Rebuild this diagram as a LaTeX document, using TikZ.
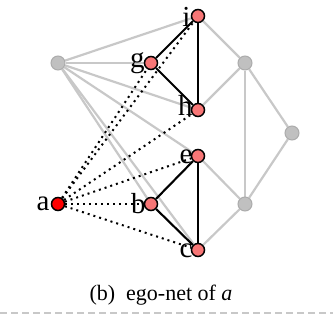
\documentclass[tikz,border=0pt]{standalone}
\usepackage{fontspec}
\setmainfont{Liberation Serif}
\usepackage{tikz}
\usetikzlibrary{backgrounds}
\definecolor{pinkn}{RGB}{247,118,118}
\definecolor{grayn}{RGB}{192,192,192}
\definecolor{grayb}{RGB}{172,172,172}
\definecolor{graye}{RGB}{200,200,200}
\begin{document}
\begin{tikzpicture}[x=1pt,y=-1pt,
  egon/.style={circle,draw=black,line width=1.5pt,fill=pinkn,minimum size=13pt,inner sep=0pt},
  egoc/.style={egon,fill=red},
  othn/.style={circle,draw=grayb,line width=1pt,fill=grayn,minimum size=14pt,inner sep=0pt},
  grayedge/.style={draw=graye,line width=2.2pt},
  blackedge/.style={draw=black,line width=2.1pt},
  dotedge/.style={draw=black,line width=2pt,dash pattern=on 2pt off 4pt},
  lab/.style={font=\fontsize{29}{31}\selectfont,inner sep=0pt},
  capt/.style={font=\fontsize{22}{24}\selectfont,inner sep=0pt},
  sepline/.style={draw=graye,line width=2.6pt,dash pattern=on 7pt off 4pt}
]
\useasboundingbox (0,0) rectangle (333,316);
\node[egon] (i) at (198,16) {};
\node[egon] (g) at (151,63) {};
\node[egon] (h) at (198,110) {};
\node[egon] (e) at (198,156) {};
\node[egon] (b) at (151,204) {};
\node[egon] (c) at (198,250) {};
\node[egoc] (a) at (58,204) {};
\node[othn] (L) at (58,63) {};
\node[othn] (R1) at (245,63) {};
\node[othn] (R2) at (292,133) {};
\node[othn] (R3) at (245,204) {};
% labels
\node[lab,anchor=east] (li) at ([xshift=0pt,yshift=-1pt]i.west) {i};
\node[lab,anchor=east] (lg) at ([xshift=1pt]g.west) {g};
\node[lab,anchor=east] (lh) at ([xshift=2pt,yshift=5pt]h.west) {h};
\node[lab,anchor=east] (le) at ([xshift=2pt,yshift=-1pt]e.west) {e};
\node[lab,anchor=east] (lb) at ([xshift=2pt]b.west) {b};
\node[lab,anchor=east] (lc) at ([xshift=2pt,yshift=-1pt]c.west) {c};
\node[lab,anchor=east] (la) at ([xshift=-1pt]a.west) {a};
% caption
\node[capt] (cap) at (161,295) {(b)\hspace{0.5em}ego-net of \textit{a}};
\coordinate (sl) at (0,313);
\coordinate (sr) at (333,313);
\draw[sepline] (sl) -- (sr);
% edges behind nodes
\begin{pgfonlayer}{background}
  \foreach \t in {i,g,h,e,b,c} \draw[grayedge] (L) -- (\t);
  \foreach \t in {i,h,R2,R3} \draw[grayedge] (R1) -- (\t);
  \foreach \t in {e,c,R2} \draw[grayedge] (R3) -- (\t);
  \foreach \t in {i,g,h,e,b,c} \draw[dotedge] (a) -- (\t);
  \draw[blackedge] (g) -- (i);
  \draw[blackedge] (g) -- (h);
  \draw[blackedge] (i) -- (h);
  \draw[blackedge] (b) -- (e);
  \draw[blackedge] (b) -- (c);
  \draw[blackedge] (e) -- (c);
\end{pgfonlayer}
\end{tikzpicture}
\end{document}
